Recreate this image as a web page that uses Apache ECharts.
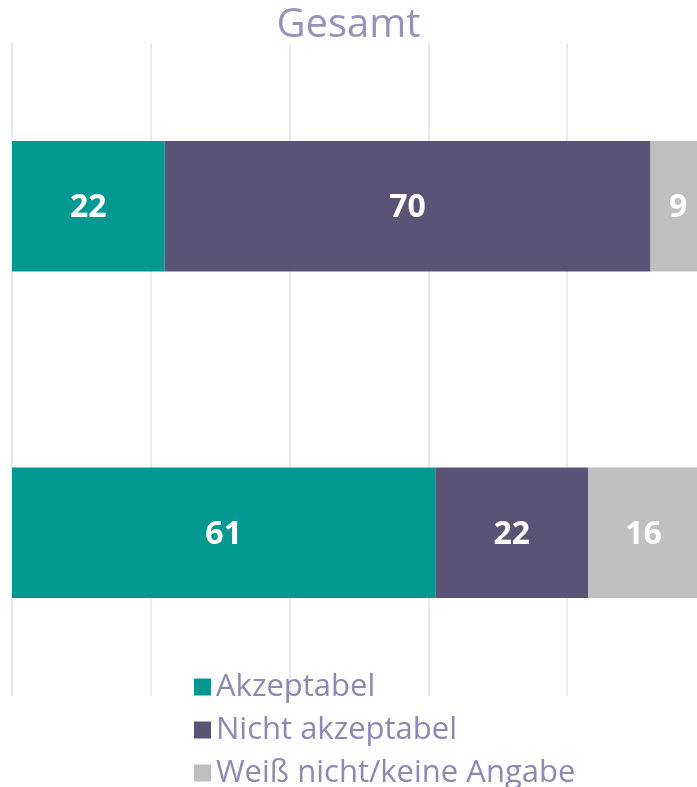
<!DOCTYPE html>
<html>
<head>
<meta charset="utf-8">
<script src="https://cdn.jsdelivr.net/npm/echarts@6/dist/echarts.min.js"></script>
<style>
  html, body { margin: 0; padding: 0; background: #fff; }
  #chart { width: 697px; height: 787px; }
</style>
</head>
<body>
<div id="chart"></div>
<script>
// Kategorien (Achsenbeschriftung im Original nicht sichtbar)
var categories = ['Frage 1', 'Frage 2'];
var seriesNames = ['Akzeptabel', 'Nicht akzeptabel', 'Weiß nicht/keine Angabe'];
var akzeptabel = [22, 61];
var nichtAkzeptabel = [70, 22];
var weissNicht = [9, 16];
var xTicks = [0, 20, 40, 60, 80, 100];

var colors = ['#009891', '#5b5376', '#bfbfbf'];
var fontFam = '"Open Sans", "DejaVu Sans", sans-serif';

var chart = echarts.init(document.getElementById('chart'));

function makeSeries(name, values, color) {
    return {
        name: name,
        type: 'bar',
        stack: 'gesamt',
        barWidth: '40%',
        data: values,
        itemStyle: { color: color },
        label: {
            show: true,
            position: 'inside',
            offset: [0, 2],
            color: '#fff',
            fontFamily: fontFam,
            fontWeight: 'bold',
            fontSize: 32
        },
        emphasis: { disabled: true }
    };
}

var option = {
    backgroundColor: '#fff',
    animation: false,
    title: {
        text: 'Gesamt',
        left: 'center',
        top: 1,
        textStyle: {
            fontFamily: fontFam,
            fontWeight: 'normal',
            fontSize: 40,
            color: '#9891bb'
        }
    },
    legend: {
        orient: 'vertical',
        left: 189,
        top: 665,
        height: 122,
        icon: 'rect',
        itemWidth: 17,
        itemHeight: 17,
        itemGap: 9,
        data: seriesNames,
        textStyle: {
            fontFamily: fontFam,
            fontSize: 31,
            lineHeight: 34,
            color: '#8e88b2'
        }
    },
    grid: {
        left: 12,
        top: 43,
        width: 694,
        height: 653,
        outerBoundsMode: 'none'
    },
    xAxis: {
        type: 'value',
        min: xTicks[0],
        max: xTicks[xTicks.length - 1],
        interval: 20,
        axisLabel: { show: false },
        axisLine: { show: false },
        axisTick: { show: false },
        splitLine: { lineStyle: { color: '#e3e2ea', width: 1.5 } }
    },
    yAxis: {
        type: 'category',
        inverse: true,
        data: categories,
        axisLabel: { show: false },
        axisLine: { show: false },
        axisTick: { show: false }
    },
    series: [
        makeSeries(seriesNames[0], akzeptabel, colors[0]),
        makeSeries(seriesNames[1], nichtAkzeptabel, colors[1]),
        makeSeries(seriesNames[2], weissNicht, colors[2])
    ]
};

chart.setOption(option);
</script>
</body>
</html>
